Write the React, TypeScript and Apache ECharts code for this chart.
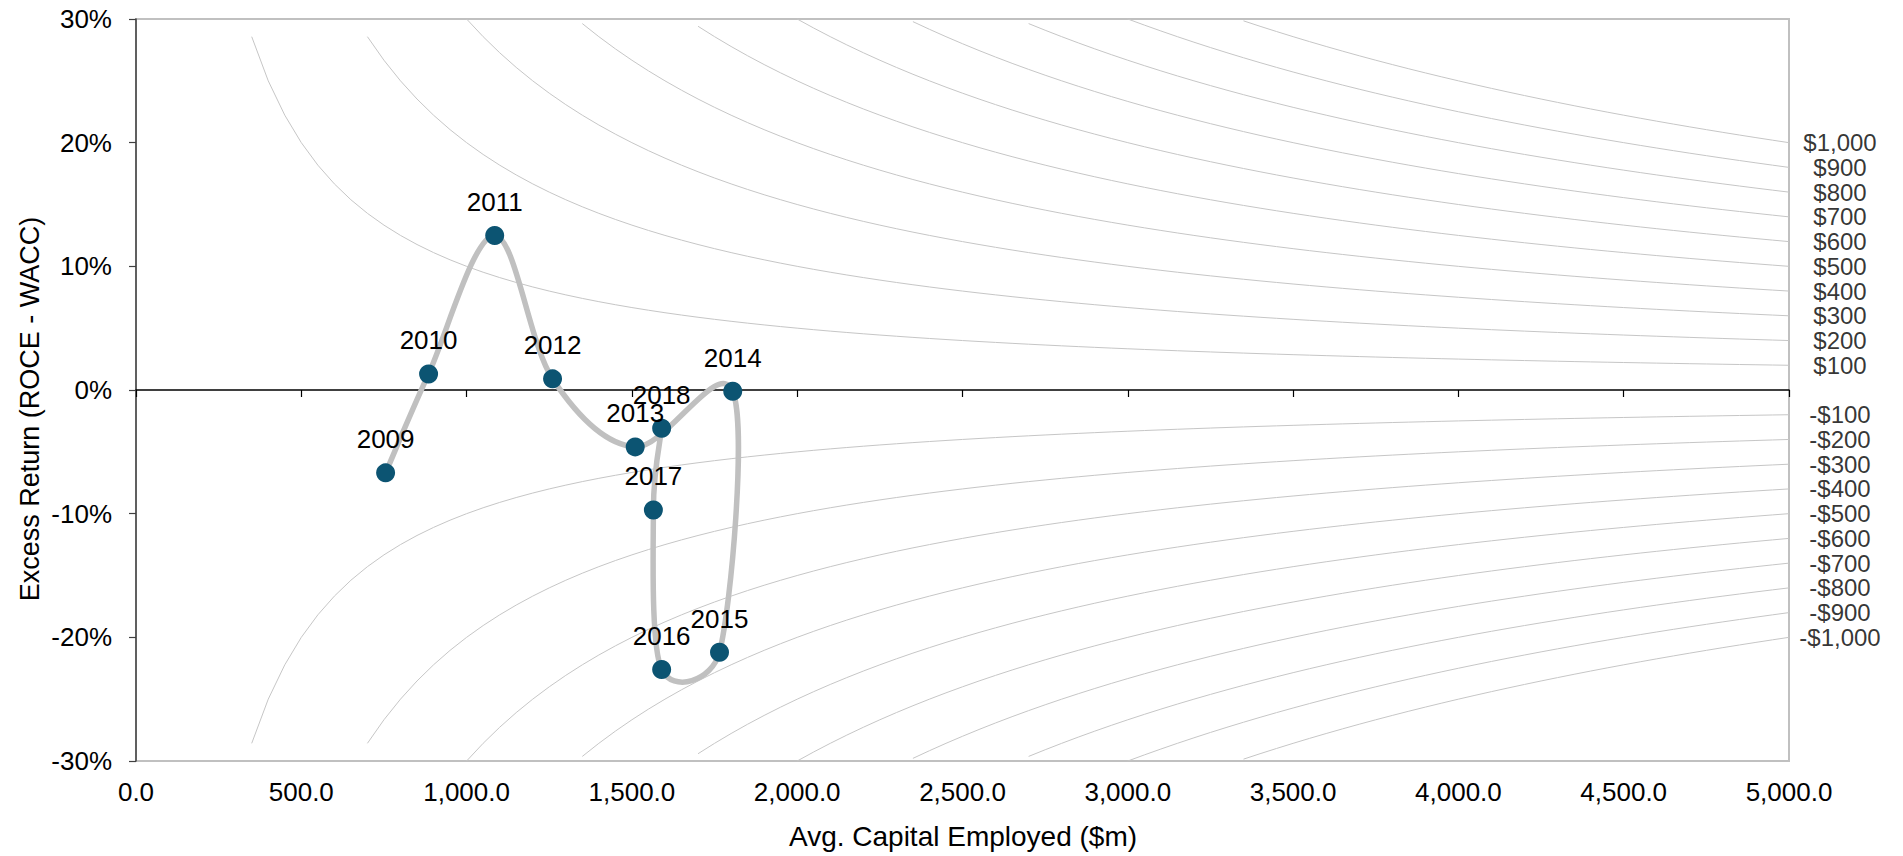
import React, { useEffect, useRef } from "react";
import * as echarts from "echarts";

// ---- data ----
const years = ["2009", "2010", "2011", "2012", "2013", "2014", "2015", "2016", "2017", "2018"];
const capitalEmployed = [755, 885, 1085, 1260, 1510, 1805, 1765, 1590, 1565, 1590]; // $m
const excessReturn = [-6.7, 1.3, 12.5, 0.9, -4.6, -0.1, -21.2, -22.6, -9.7, -3.1]; // %

// iso economic-profit levels ($m) drawn as reference curves  y = EVA / capital
const evaLevels = [1000, 900, 800, 700, 600, 500, 400, 300, 200, 100, -100, -200, -300, -400, -500, -600, -700, -800, -900, -1000];

const xMin = 0;
const xMax = 5000;
const xInterval = 500;
const yMin = -30;
const yMax = 30;
const yInterval = 10;
const curveStep = 50;

const FONT = "'Liberation Sans', Arial, sans-serif";

function fmtMoney(v: number): string {
  const s = "$" + Math.abs(v).toLocaleString("en-US");
  return v < 0 ? "-" + s : s;
}

function isoCurve(v: number): number[][] {
  const pts: number[][] = [];
  const start = Math.ceil((Math.abs(v) * 100) / 30 / curveStep) * curveStep;
  for (let x = start; x <= xMax; x += curveStep) {
    pts.push([x, (v / x) * 100]);
  }
  return pts;
}

// Spreadsheet-style smoothed path (Bezier, tension 1/6, limited by segment length)
function smoothPath(pts: number[][]): string {
  if (pts.length < 2) return "";
  const dist = (a: number[], b: number[]) => Math.hypot(b[0] - a[0], b[1] - a[1]);
  let d = `M${pts[0][0]},${pts[0][1]}`;
  for (let i = 0; i < pts.length - 1; i++) {
    const p1 = pts[i];
    const p2 = pts[i + 1];
    const p0 = i > 0 ? pts[i - 1] : p1;
    const p3 = i + 2 < pts.length ? pts[i + 2] : p2;
    const d12 = dist(p1, p2);
    const d02 = dist(p0, p2);
    const d13 = dist(p1, p3);
    let f1 = 1 / 6;
    let f2 = 1 / 6;
    if (d02 / 6 > d12 / 2 && d02 > 0) f1 = d12 / (2 * d02);
    if (d13 / 6 > d12 / 2 && d13 > 0) f2 = d12 / (2 * d13);
    const c1 = [p1[0] + (p2[0] - p0[0]) * f1, p1[1] + (p2[1] - p0[1]) * f1];
    const c2 = [p2[0] - (p3[0] - p1[0]) * f2, p2[1] - (p3[1] - p1[1]) * f2];
    d += ` C${c1[0]},${c1[1]} ${c2[0]},${c2[1]} ${p2[0]},${p2[1]}`;
  }
  return d;
}

export default function App() {
  const ref = useRef<HTMLDivElement>(null);

  useEffect(() => {
    if (!ref.current) return;
    const chart = echarts.init(ref.current, undefined, { renderer: "svg" });

    const isoSeries = evaLevels.map((v) => ({
      type: "line",
      data: isoCurve(v),
      showSymbol: false,
      symbol: "none",
      silent: true,
      clip: true,
      z: 1,
      lineStyle: { color: "#c6c6c6", width: 1 },
    }));

    const points = years.map((y, i) => ({ name: y, value: [capitalEmployed[i], excessReturn[i]] }));

    const option: any = {
      animation: false,
      backgroundColor: "#ffffff",
      textStyle: { fontFamily: FONT },
      grid: {
        left: 136,
        right: 114,
        top: 19,
        bottom: 95,
        show: true,
        borderColor: "#c0c0c0",
        borderWidth: 2,
        backgroundColor: "transparent",
      },
      xAxis: [
        {
          type: "value",
          min: xMin,
          max: xMax,
          interval: xInterval,
          position: "bottom",
          axisLine: { show: false, onZero: false },
          axisTick: { show: false },
          splitLine: { show: false },
          axisLabel: {
            color: "#000",
            fontSize: 26,
            fontFamily: FONT,
            margin: 18,
            formatter: (v: number) =>
              v.toLocaleString("en-US", { minimumFractionDigits: 1, maximumFractionDigits: 1 }),
          },
        },
        {
          type: "value",
          min: xMin,
          max: xMax,
          interval: xInterval,
          position: "bottom",
          axisLine: { show: true, onZero: true, lineStyle: { color: "#000", width: 1.5 } },
          axisTick: { show: true, inside: false, length: 7, lineStyle: { color: "#000", width: 1.2 } },
          axisLabel: { show: false },
          splitLine: { show: false },
        },
      ],
      yAxis: {
        type: "value",
        min: yMin,
        max: yMax,
        interval: yInterval,
        axisLine: { show: true, onZero: false, lineStyle: { color: "#404040", width: 1.5 } },
        axisTick: { show: true, inside: false, length: 7, lineStyle: { color: "#404040", width: 1.2 } },
        splitLine: { show: false },
        axisLabel: {
          color: "#000",
          fontSize: 26,
          fontFamily: FONT,
          margin: 24,
          formatter: (v: number) => v + "%",
        },
      },
      series: [
        ...isoSeries,
        {
          type: "scatter",
          data: evaLevels.map((v) => ({ name: fmtMoney(v), value: [xMax, (v / xMax) * 100] })),
          symbolSize: 0,
          silent: true,
          clip: false,
          z: 2,
          label: {
            show: true,
            position: "inside",
            offset: [51, 0],
            align: "center",
            verticalAlign: "middle",
            color: "#000",
            fontSize: 24,
            lineHeight: 22,
            fontFamily: FONT,
            formatter: (p: any) => p.name,
          },
        },
        {
          type: "custom",
          data: points,
          encode: { x: 0, y: 1 },
          silent: true,
          clip: false,
          z: 4,
          renderItem: (params: any, api: any) => {
            if (params.dataIndex !== 0) return null;
            const px = capitalEmployed.map((x, i) => api.coord([x, excessReturn[i]]));
            return {
              type: "path",
              shape: { pathData: smoothPath(px) },
              style: { fill: "none", stroke: "#c0c0c0", lineWidth: 5.5 },
            };
          },
        },
        {
          type: "scatter",
          data: points,
          symbol: "circle",
          symbolSize: 19,
          silent: true,
          clip: false,
          z: 5,
          itemStyle: { color: "#0c5472", borderWidth: 0, opacity: 1 },
          label: {
            show: true,
            position: "top",
            distance: 14,
            color: "#000",
            fontSize: 26,
            lineHeight: 20,
            fontFamily: FONT,
            formatter: (p: any) => p.name,
          },
        },
      ],
      graphic: [
        {
          type: "text",
          x: 30,
          y: 409,
          rotation: Math.PI / 2,
          style: {
            text: "Excess Return (ROCE - WACC)",
            fontSize: 27,
            fontFamily: FONT,
            fill: "#000",
            textAlign: "center",
            textVerticalAlign: "middle",
          },
        },
        {
          type: "text",
          x: 963,
          y: 836,
          style: {
            text: "Avg. Capital Employed ($m)",
            fontSize: 28,
            fontFamily: FONT,
            fill: "#000",
            textAlign: "center",
            textVerticalAlign: "middle",
          },
        },
      ],
    };

    chart.setOption(option);
    return () => chart.dispose();
  }, []);

  return (
    <div
      ref={ref}
      style={{ position: "fixed", left: 0, top: 0, width: "1903px", height: "856px", background: "#fff" }}
    />
  );
}
